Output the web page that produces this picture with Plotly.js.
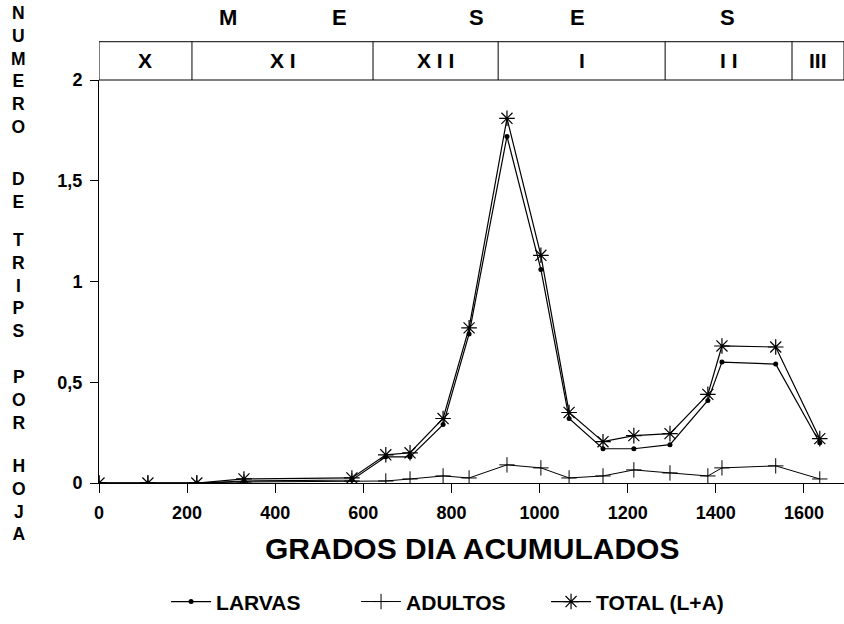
<!DOCTYPE html>
<html>
<head>
<meta charset="utf-8">
<script src="https://cdn.plot.ly/plotly-3.0.1.min.js"></script>
<style>html,body{margin:0;padding:0;background:#fff;}#chart{width:844px;height:624px;}</style>
</head>
<body>
<div id="chart"></div>
<script>
// Grados día acumulados (x) for each sampling date
var gradosDia = [0, 111, 222, 329, 574, 651, 706, 781, 840, 926, 1003, 1067, 1144, 1214, 1296, 1382, 1414, 1536, 1636];
var larvas    = [0, 0, 0, 0.01, 0.015, 0.13, 0.13, 0.29, 0.74, 1.72, 1.06, 0.32, 0.17, 0.17, 0.19, 0.41, 0.60, 0.59, 0.20];
var adultos   = [0, 0, 0, 0.005, 0.01, 0.01, 0.02, 0.035, 0.025, 0.09, 0.075, 0.025, 0.035, 0.065, 0.05, 0.035, 0.075, 0.085, 0.02];
var total     = [0, 0, 0, 0.02, 0.025, 0.14, 0.15, 0.32, 0.77, 1.81, 1.13, 0.35, 0.205, 0.235, 0.245, 0.44, 0.68, 0.675, 0.22];

var seriesNames = ['LARVAS', 'ADULTOS', 'TOTAL (L+A)'];

// Month band (meses): boundaries in grados día, and labels
var monthBounds = [0, 211, 622, 906, 1285, 1573, 1691];
var monthLabels = ['X', 'X I', 'X I I', 'I', 'I I', 'III'];
var mesesLetters = ['M', 'E', 'S', 'E', 'S'];
var mesesX = [293, 547, 856, 1087, 1427];

var yTickVals = [0, 0.5, 1, 1.5, 2];
var yTickText = ['0', '0,5', '1', '1,5', '2'];
var xTickVals = [0, 200, 400, 600, 800, 1000, 1200, 1400, 1600];

var yTitleWords = ['NUMERO', 'DE', 'TRIPS', 'POR', 'HOJA'];
var yTitleCenters = [1.025, 0.727, 0.491, 0.206, -0.042];

var NARROW = '"Liberation Sans Narrow", "Arial Narrow", "Liberation Sans", Arial, sans-serif';
var BOLD = '"Liberation Sans", Arial, sans-serif';

var traces = [
  {x: gradosDia, y: larvas, name: seriesNames[0], type: 'scatter', mode: 'lines+markers',
   line: {color: '#000', width: 1.2},
   marker: {symbol: 'circle', size: 5, color: '#000'}},
  {x: gradosDia, y: adultos, name: seriesNames[1], type: 'scatter', mode: 'lines+markers',
   line: {color: '#000', width: 1},
   marker: {symbol: 'cross-thin-open', size: 11, color: '#000', line: {width: 1, color: '#000'}}},
  {x: gradosDia, y: total, name: seriesNames[2], type: 'scatter', mode: 'lines+markers',
   line: {color: '#000', width: 1.2},
   marker: {symbol: 'asterisk-open', size: 13, color: '#000', line: {width: 1.2, color: '#000'}}}
];

var shapes = [];
var annotations = [];
// band rectangle
shapes.push({type: 'rect', xref: 'x', yref: 'paper', x0: monthBounds[0], x1: monthBounds[monthBounds.length - 1],
  y0: 1, y1: 1.095, line: {color: '#000', width: 1}, fillcolor: 'rgba(0,0,0,0)'});
for (var i = 1; i < monthBounds.length - 1; i++) {
  shapes.push({type: 'line', xref: 'x', yref: 'paper', x0: monthBounds[i], x1: monthBounds[i],
    y0: 1, y1: 1.095, line: {color: '#000', width: 1}});
}
for (var j = 0; j < monthLabels.length; j++) {
  annotations.push({xref: 'x', yref: 'paper', x: (monthBounds[j] + monthBounds[j + 1]) / 2, y: 1.0475,
    text: '<b>' + monthLabels[j] + '</b>', showarrow: false, xanchor: 'center', yanchor: 'middle',
    font: {family: BOLD, size: 21, color: '#000'}});
}
for (var k = 0; k < mesesLetters.length; k++) {
  annotations.push({xref: 'x', yref: 'paper', x: mesesX[k], y: 1.155,
    text: '<b>' + mesesLetters[k] + '</b>', showarrow: false, xanchor: 'center', yanchor: 'middle',
    font: {family: BOLD, size: 22, color: '#000'}});
}
// vertical y title
for (var w = 0; w < yTitleWords.length; w++) {
  annotations.push({xref: 'paper', yref: 'paper', x: -0.108, y: yTitleCenters[w],
    text: '<b>' + yTitleWords[w].split('').join('<br>') + '</b>', showarrow: false,
    xanchor: 'center', yanchor: 'middle', align: 'center',
    font: {family: BOLD, size: 17.5, color: '#000'}});
}
// x title
annotations.push({xref: 'paper', yref: 'paper', x: 0.5, y: -0.163, text: '<b>GRADOS DIA ACUMULADOS</b>',
  showarrow: false, xanchor: 'center', yanchor: 'middle',
  font: {family: NARROW, size: 30, color: '#000'}});

var layout = {
  width: 844, height: 624,
  margin: {l: 99, r: 0, t: 80, b: 141, pad: 0, autoexpand: false},
  paper_bgcolor: '#fff', plot_bgcolor: '#fff',
  showlegend: true,
  legend: {orientation: 'h', x: 0.09, xanchor: 'left', y: -0.295, yanchor: 'middle',
    font: {family: NARROW, size: 21, color: '#000', weight: 'bold'}, itemwidth: 40,
    entrywidth: 135, entrywidthmode: 'pixels', tracegroupgap: 0,
    bgcolor: 'rgba(0,0,0,0)'},
  xaxis: {range: [0, 1691], showgrid: false, zeroline: false, showline: true, linecolor: '#000', linewidth: 1,
    ticks: 'outside', ticklen: 9, tickcolor: '#000', tickwidth: 1, tickvals: xTickVals,
    tickfont: {family: NARROW, size: 18, color: '#000', weight: 'bold'}, ticklabelstandoff: 4},
  yaxis: {range: [0, 2], showgrid: false, zeroline: false, showline: true, linecolor: '#000', linewidth: 1,
    ticks: 'outside', ticklen: 8, tickcolor: '#000', tickwidth: 1, tickvals: yTickVals, ticktext: yTickText,
    tickfont: {family: BOLD, size: 18, color: '#000', weight: 'bold'}, ticklabelstandoff: 4},
  shapes: shapes,
  annotations: annotations
};

Plotly.newPlot('chart', traces, layout, {displayModeBar: false, staticPlot: true});
</script>
</body>
</html>
